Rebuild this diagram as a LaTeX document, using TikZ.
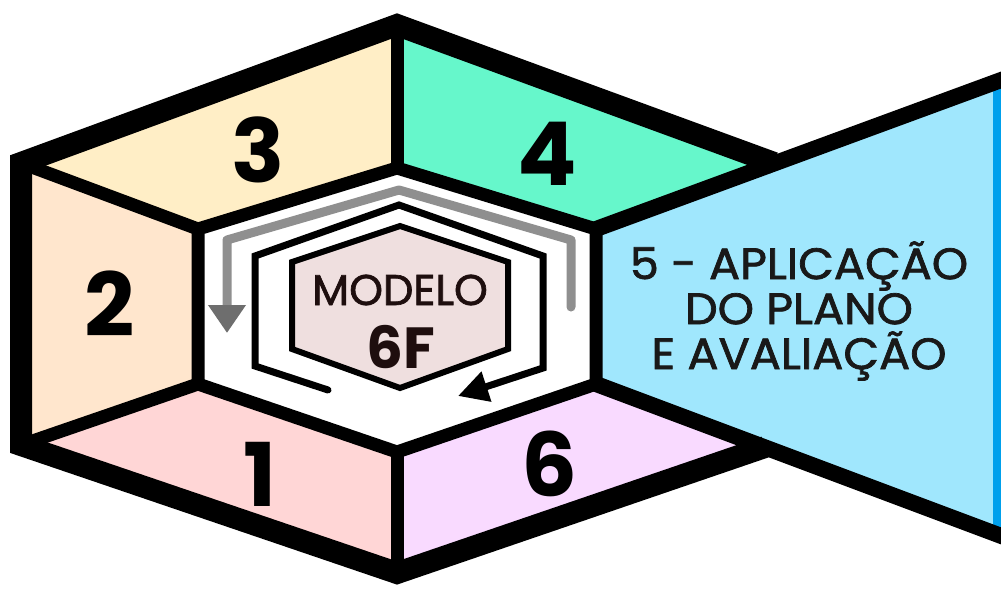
\documentclass[tikz,border=0pt]{standalone}
\usepackage{fontspec}
\newfontfamily\pop{Poppins}
\newfontfamily\popfb{Poppins}[FakeBold=1.6]
\usetikzlibrary{arrows.meta}
\definecolor{cone}{HTML}{FFD6D6}
\definecolor{ctwo}{HTML}{FFE6CD}
\definecolor{cthree}{HTML}{FFEEC6}
\definecolor{cfour}{HTML}{66F7CB}
\definecolor{cfive}{HTML}{A0E7FD}
\definecolor{csix}{HTML}{F9DAFF}
\definecolor{cstripe}{HTML}{00A0EC}
\definecolor{chex}{HTML}{EFDFDF}
\definecolor{cgray}{HTML}{8F8F8F}
\definecolor{cgraydark}{HTML}{6E6E6E}
\definecolor{ctext}{HTML}{1E0E0E}
\begin{document}
\begin{tikzpicture}[x=1pt,y=-1pt,
  outerline/.style={line width=22pt,line join=miter},
  sepline/.style={line width=13pt,line join=miter},
  numtxt/.style={font=\pop\bfseries\fontsize{88}{88}\selectfont,inner sep=0pt},
  bluetxt/.style={font=\popfb\fontsize{44}{45}\selectfont,align=center,inner sep=0pt,text=black!90},
]
\useasboundingbox (0,0) rectangle (1001,589);
\fill[white] (0,0) rectangle (1001,589);
% outer frame
\coordinate (T) at (397,25);
\coordinate (TL) at (21,163);
\coordinate (BL) at (21,445);
\coordinate (B) at (397,573);
\coordinate (J1) at (774,163);
\coordinate (J2) at (765,447);
% inner hexagon
\coordinate (iT) at (397,168);
\coordinate (iTL) at (198,229);
\coordinate (iBL) at (198,384);
\coordinate (iB) at (397,452);
\coordinate (iBR) at (596,384);
\coordinate (iTR) at (596,229);
% right edge of wedge
\coordinate (R1) at (1001,80);
\coordinate (R2) at (1001,536);
\coordinate (R1x) at (1012,76);
\coordinate (R2x) at (1012,540);
% fills
\fill[cthree] (iT) -- (iTL) -- (TL) -- (T) -- cycle;
\fill[ctwo] (iTL) -- (iBL) -- (BL) -- (TL) -- cycle;
\fill[cone] (iBL) -- (iB) -- (B) -- (BL) -- cycle;
\fill[cfour] (iT) -- (T) -- (J1) -- (iTR) -- cycle;
\fill[csix] (iB) -- (B) -- (J2) -- (iBR) -- cycle;
\fill[white] (iT) -- (iTL) -- (iBL) -- (iB) -- (iBR) -- (iTR) -- cycle;
\fill[cfive] (iTR) -- (R1) -- (R2) -- (iBR) -- cycle;
\fill[cstripe] (993,78) rectangle (1001,540);
% black lines
\draw[outerline] (J1) -- (T) -- (TL) -- (BL) -- (B) -- (J2);
\draw[sepline] (iT) -- (iTL) -- (iBL) -- (iB) -- (iBR) -- (iTR) -- cycle;
\draw[sepline] (iT) -- (T);
\draw[sepline] (iTL) -- (TL);
\draw[sepline] (iBL) -- (BL);
\draw[sepline] (iB) -- (B);
\draw[line width=16pt] (iTR) -- (R1x);
\draw[line width=16pt] (iBR) -- (R2x);
% numbers
\node[numtxt] (n3) at (258,150) {3};
\node[numtxt] (n4) at (547,154) {4};
\node[numtxt] (n2) at (110,304) {2};
\node[numtxt] (n1) at (260,474) {1};
\node[numtxt] (n6) at (550,464) {6};
% wedge text
\node[bluetxt] (t5) at (799,311) {\scalebox{1.05}[1]{5 - APLICAÇÃO}\\\scalebox{1.05}[1]{DO PLANO}\\\scalebox{1.05}[1]{E AVALIAÇÃO}};
% cycle arrows
\coordinate (g0) at (571,307);
\coordinate (g1) at (571,240);
\coordinate (g2) at (399,190);
\coordinate (g3) at (227,240);
\coordinate (g4) at (227,333);
\draw[cgray,line width=9pt,line cap=round,line join=round,
  -{Triangle[length=28pt,width=36pt,color=cgraydark]}] (g0) -- (g1) -- (g2) -- (g3) -- (g4);
\coordinate (k0) at (328,390);
\coordinate (k1) at (255,366);
\coordinate (k2) at (255,256);
\coordinate (k3) at (399,205);
\coordinate (k4) at (543,256);
\coordinate (k5) at (543,368);
\coordinate (k6) at (458,396);
\draw[line width=7pt,line cap=round,line join=miter,
  -{Triangle[length=30pt,width=30pt]}] (k0) -- (k1) -- (k2) -- (k3) -- (k4) -- (k5) -- (k6);
% center hexagon
\draw[line width=6pt,fill=chex,line join=miter] (400,226) -- (292,262) -- (292,349) -- (400,388) -- (508,349) -- (508,262) -- cycle;
\node[font=\popfb\fontsize{43}{43}\selectfont,text=ctext,inner sep=0pt] (m1) at (400,290) {MODELO};
\node[font=\pop\bfseries\fontsize{58}{58}\selectfont,text=ctext,inner sep=0pt] (m2) at (401,347) {6F};
\end{tikzpicture}
\end{document}
